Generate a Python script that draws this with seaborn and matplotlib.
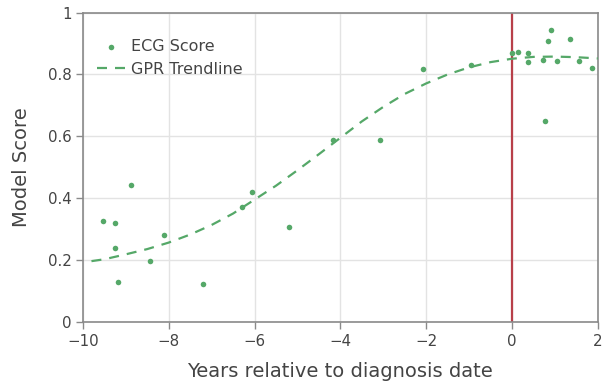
import matplotlib
matplotlib.use("Agg")
import matplotlib.pyplot as plt
import seaborn as sns
import pandas as pd

# ECG score observations
ecg_years = [-9.53, -9.26, -9.26, -9.19, -8.89, -8.43, -8.11, -7.20, -6.30, -6.07,
             -5.19, -4.16, -3.08, -2.08, -0.96, 0.00, 0.13, 0.38, 0.38, 0.72,
             0.78, 0.83, 0.92, 1.05, 1.35, 1.56, 1.87]
ecg_scores = [0.326, 0.319, 0.240, 0.128, 0.441, 0.196, 0.280, 0.123, 0.371, 0.419,
              0.307, 0.588, 0.588, 0.817, 0.831, 0.868, 0.872, 0.868, 0.840, 0.848,
              0.648, 0.908, 0.944, 0.845, 0.915, 0.845, 0.822]

# GPR trendline
gpr_years = [-9.8, -9.5, -9.0, -8.5, -8.0, -7.5, -7.0, -6.5, -6.0, -5.5, -5.0, -4.5,
             -4.0, -3.5, -3.0, -2.5, -2.0, -1.5, -1.0, -0.5, 0.0, 0.5, 1.0, 1.5, 2.0]
gpr_scores = [0.196, 0.202, 0.218, 0.235, 0.256, 0.282, 0.313, 0.350, 0.395, 0.440,
              0.490, 0.542, 0.595, 0.648, 0.695, 0.737, 0.771, 0.800, 0.823, 0.840,
              0.851, 0.857, 0.858, 0.856, 0.852]

x_ticks = [-10, -8, -6, -4, -2, 0, 2]
y_ticks = [0, 0.2, 0.4, 0.6, 0.8, 1]
y_tick_labels = ["0", "0.2", "0.4", "0.6", "0.8", "1"]
x_tick_labels = ["\u221210", "\u22128", "\u22126", "\u22124", "\u22122", "0", "2"]

sns.set_theme(style="whitegrid")
plt.rcParams['font.family'] = ['DejaVu Sans']

green = "#55A868"
red = "#B8404A"
txt = "#444444"

fig = plt.figure(figsize=(6.05, 3.86), dpi=100)
ax = fig.add_axes([0.137, 0.1666, 0.851, 0.8005])

ecg_df = pd.DataFrame({"year": ecg_years, "score": ecg_scores})
gpr_df = pd.DataFrame({"year": gpr_years, "score": gpr_scores})

ax.axvline(0, color=red, lw=1.6, zorder=2)
sns.lineplot(data=gpr_df, x="year", y="score", ax=ax, color=green, lw=1.6,
             dashes=False, label="GPR Trendline", zorder=3)
ax.lines[-1].set_dashes((4.5, 3.6))
sns.scatterplot(data=ecg_df, x="year", y="score", ax=ax, color=green, s=16,
                linewidth=0, label="ECG Score", zorder=4)

ax.set_xlim(-10, 2)
ax.set_ylim(0, 1)
ax.set_xticks(x_ticks)
ax.set_xticklabels(x_tick_labels)
ax.set_yticks(y_ticks)
ax.set_yticklabels(y_tick_labels)
ax.grid(True, color="#e3e3e3", lw=1.0)
for s in ax.spines.values():
    s.set_color("#8a8a8a")
    s.set_linewidth(1.2)
ax.tick_params(axis="both", which="both", direction="out", length=5, width=1,
               color="#8a8a8a", labelsize=10.8, labelcolor=txt,
               bottom=True, left=True)
ax.tick_params(axis="x", pad=4)
ax.tick_params(axis="y", pad=3)
ax.set_xlabel("Years relative to diagnosis date", fontsize=14, color=txt, labelpad=9)
ax.set_ylabel("Model Score", fontsize=14, color=txt, labelpad=12)

handles, labels = ax.get_legend_handles_labels()
order = [labels.index("ECG Score"), labels.index("GPR Trendline")]
leg = ax.legend([handles[i] for i in order], [labels[i] for i in order],
                loc="upper left", bbox_to_anchor=(0.0, 0.96), frameon=False,
                fontsize=11.5, labelcolor=txt, handlelength=1.75, handletextpad=0.42,
                borderaxespad=0.46, labelspacing=0.5)

fig.savefig("out.png", dpi=100)
